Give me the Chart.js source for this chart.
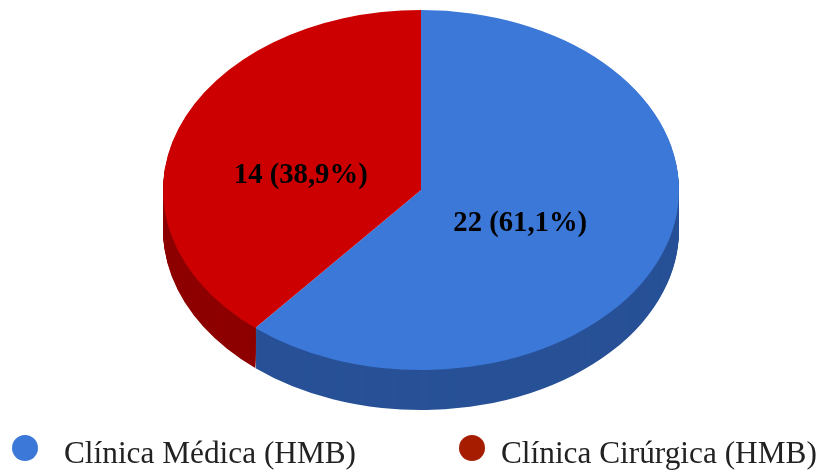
<!DOCTYPE html>
<html>
<head>
<meta charset="utf-8">
<style>
	html, body { margin: 0; padding: 0; background: #fff; overflow: hidden; }
	#wrap { position: relative; width: 820px; height: 473px; }
	.dot { position: absolute; top: 435px; width: 26px; height: 26px; border-radius: 50%; }
	.txt { position: absolute; top: 435px; font: 31.3px/36px "Liberation Serif", serif; color: #222; white-space: nowrap; }
</style>
<script src="https://cdn.jsdelivr.net/npm/chart.js@4"></script>
</head>
<body>
<div id="wrap">
	<canvas id="myChart" width="820" height="473"></canvas>
	<div class="dot" id="dot0" style="left:12px"></div>
	<div class="txt" id="txt0" style="left:64px"></div>
	<div class="dot" id="dot1" style="left:459px"></div>
	<div class="txt" id="txt1" style="left:501px"></div>
</div>
<script>
//data
var categories = ['Clínica Médica (HMB)', 'Clínica Cirúrgica (HMB)'];
var values = [22, 14];
var sliceLabels = ['22 (61,1%)', '14 (38,9%)'];

//colours
var topColors = ['#3c78d8', '#cc0000'];
var wallColors = ['#285197', '#8e0000'];
var legendColors = ['#3c78d8', '#a61c00'];

//fake 3d: chart is drawn as a circle then stretched sideways
var stretchX = 258 / 180;
var depth = 40;
var labelNudge = [[-22, 3], [1, 16]];

//legend
for (var i = 0; i < categories.length; i++) {
	document.getElementById('dot' + i).style.background = legendColors[i];
	document.getElementById('txt' + i).textContent = categories[i];
}

var pie3d = {
	id: 'pie3d',
	beforeDatasetsDraw: function (chart) {
		var ctx = chart.ctx;
		var arcs = chart.getDatasetMeta(0).data;
		var cx = arcs[0].x;

		ctx.save();
		ctx.translate(cx, 0);
		ctx.scale(stretchX, 1);
		ctx.translate(-cx, 0);

		// the wall splits where the first slice ends
		var splitX = cx + Math.cos(arcs[0].endAngle) * arcs[0].outerRadius;

		for (var i = 0; i < arcs.length; i++) {
			var arc = arcs[i];
			var saved = arc.options;
			arc.options = Object.assign({}, saved, { backgroundColor: wallColors[i], borderWidth: 0 });

			ctx.save();
			ctx.beginPath();
			if (i === 0) {
				ctx.rect(splitX, 0, chart.width * 2, chart.height);
			} else {
				ctx.rect(-chart.width, 0, chart.width + splitX, chart.height);
			}
			ctx.clip();
			for (var d = depth; d > 0; d--) {
				ctx.save();
				ctx.translate(0, d);
				arc.draw(ctx);
				ctx.restore();
			}
			ctx.restore();

			arc.options = saved;
		}
	},
	afterDatasetsDraw: function (chart) {
		var ctx = chart.ctx;
		var arcs = chart.getDatasetMeta(0).data;
		var cx = arcs[0].x;
		ctx.restore();

		ctx.save();
		ctx.font = 'bold 28.7px "Liberation Serif", serif';
		ctx.fillStyle = '#000';
		ctx.textAlign = 'center';
		ctx.textBaseline = 'middle';
		for (var i = 0; i < arcs.length; i++) {
			var p = arcs[i].tooltipPosition();
			var x = cx + (p.x - cx) * stretchX + labelNudge[i][0];
			ctx.fillText(sliceLabels[i], x, p.y + labelNudge[i][1]);
		}
		ctx.restore();
	}
};

var myChart = new Chart(document.getElementById('myChart'), {
	type: 'pie',
	data: {
		labels: categories,
		datasets: [{
			data: values,
			backgroundColor: topColors,
			borderWidth: 0,
			clip: false
		}]
	},
	options: {
		responsive: false,
		animation: false,
		events: [],
		layout: { padding: { top: 10, bottom: 103, left: 22, right: 0 } },
		plugins: {
			legend: { display: false },
			tooltip: { enabled: false }
		}
	},
	plugins: [pie3d]
});
</script>
</body>
</html>
